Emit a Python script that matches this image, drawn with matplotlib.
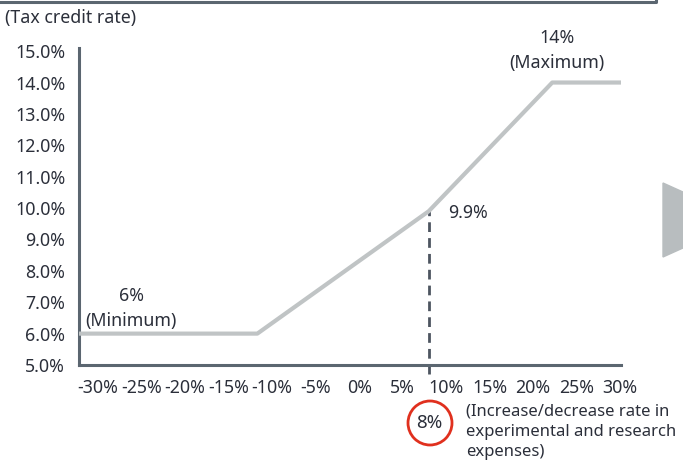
import matplotlib
matplotlib.use("Agg")
import matplotlib.pyplot as plt
from matplotlib.patches import Ellipse, Polygon

plt.rcParams['font.family'] = ['Noto Sans', 'DejaVu Sans']

# Data
rate_x = [-32.2, -11.7, 8.0, 22.2, 30.1]   # increase/decrease rate (%)
credit_y = [6.0, 6.0, 9.9, 14.0, 14.0]     # tax credit rate (%)
x_ticks = [-30, -25, -20, -15, -10, -5, 0, 5, 10, 15, 20, 25, 30]
y_ticks = [5, 6, 7, 8, 9, 10, 11, 12, 13, 14, 15]
marker_x = 8.0
marker_y = 9.9

TEXT = '#2b2f3a'
AXIS = '#5b6670'
LINE = '#c0c4c5'
FS = 12.8

W, H = 683, 470
fig = plt.figure(figsize=(W / 100, H / 100), dpi=100)
ax = fig.add_axes([79 / W, (H - 365) / H, (621 - 79) / W, (365 - 48) / H])

ax.plot(rate_x, credit_y, color=LINE, lw=3.0, solid_capstyle='butt', zorder=3)
ax.plot([marker_x, marker_x], [4.72, marker_y], color='#4d5560', lw=2.0,
        dashes=(3.5, 2.2), clip_on=False, zorder=2)

ax.set_xlim(-32.2, 30.1)
ax.set_ylim(5, 15.1)
ax.set_xticks(x_ticks)
ax.set_xticklabels([f'{v}%' for v in x_ticks])
ax.set_yticks(y_ticks)
ax.set_yticklabels([f'{v:.1f}%' for v in y_ticks])
ax.tick_params(axis='both', length=0, labelsize=FS, labelcolor=TEXT)
ax.tick_params(axis='x', pad=10)
ax.tick_params(axis='y', pad=10)

for s in ['top', 'right']:
    ax.spines[s].set_visible(False)
for s in ['left', 'bottom']:
    ax.spines[s].set_color(AXIS)
    ax.spines[s].set_linewidth(2.2)

# annotations
ax.text(marker_x + 2.2, marker_y - 0.05, '9.9%', fontsize=FS, color=TEXT,
        ha='left', va='center')
ax.text(22.7, 15.42, '14%', fontsize=FS, color=TEXT, ha='center', va='center',
        clip_on=False)
ax.text(22.7, 14.62, '(Maximum)', fontsize=FS, color=TEXT, ha='center',
        va='center', clip_on=False)
ax.text(-26.2, 7.2, '6%', fontsize=FS, color=TEXT, ha='center', va='center')
ax.text(-31.5, 6.4, '(Minimum)', fontsize=FS, color=TEXT, ha='left',
        va='center')

# figure-level text and decorations (pixel coords)
def fx(px):
    return px / W


def fy(py):
    return 1 - py / H


fig.text(fx(5), fy(18), '(Tax credit rate)', fontsize=FS, color=TEXT,
         ha='left', va='center')
fig.text(fx(429), fy(423), '8%', fontsize=13.5, color=TEXT, ha='center',
         va='center')
fig.add_artist(Ellipse((fx(430), fy(423)), 44 / W, 44 / H, fill=False,
                       edgecolor='#e0301e', lw=2.0, transform=fig.transFigure))
fig.text(fx(466), fy(403), '(Increase/decrease rate in\nexperimental and research\nexpenses)',
         fontsize=12, color=TEXT, ha='left', va='top', linespacing=1.38)

# top box edge and side arrow
fig.add_artist(plt.Line2D([fx(0), fx(656), fx(656)], [fy(2), fy(2), fy(-5)],
                          color=AXIS, lw=2.2, transform=fig.transFigure))
fig.add_artist(Polygon([(fx(663), fy(183)), (fx(663), fy(257)), (fx(745), fy(220))],
                       closed=True, color='#b8bdbf', transform=fig.transFigure))

fig.savefig('out.png', dpi=100)
